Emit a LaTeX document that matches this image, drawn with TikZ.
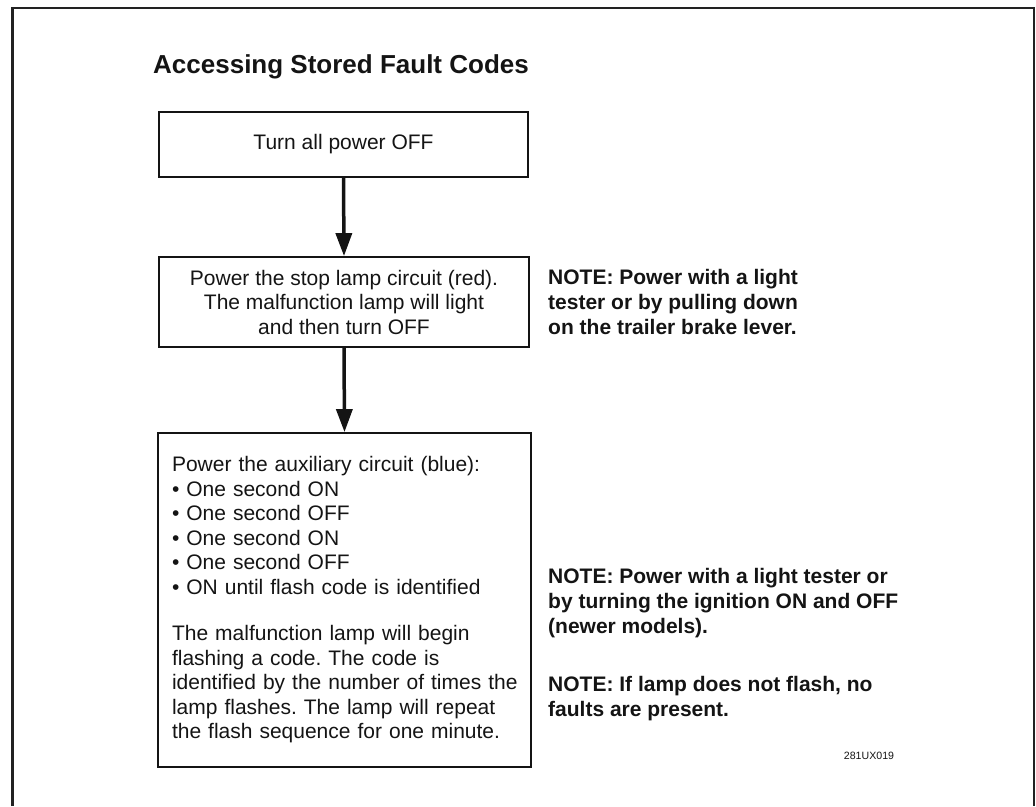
\documentclass[tikz,border=0pt]{standalone}
\usepackage{fontspec}
\setmainfont{Liberation Sans}
\usetikzlibrary{arrows.meta}
\definecolor{ink}{HTML}{141414}
\definecolor{framec}{HTML}{222222}
\frenchspacing
\begin{document}
\begin{tikzpicture}[x=1pt,y=-1pt,
  stepbox/.style={draw=ink, line width=1.8pt, inner sep=0pt, text=ink,
    font=\fontsize{21}{24.5}\selectfont},
  flow/.style={draw=ink, line width=3.5pt, -{Triangle[length=23pt,width=16pt]}},
  notetext/.style={anchor=west, align=left, inner sep=0pt, text=ink,
    font=\bfseries\fontsize{21}{25}\selectfont},
  frameline/.style={draw=framec, line width=2.6pt},
]
\useasboundingbox (0,0) rectangle (1036,806);
% outer frame (open at the bottom)
\coordinate (fbl) at (12.5,806);
\coordinate (ftl) at (12.5,8);
\coordinate (ftr) at (1034,8);
\coordinate (fbr) at (1034,806);
\draw[frameline] (fbl) -- (ftl) -- (ftr) -- (fbr);

% title
\node[anchor=base west, inner sep=0pt, text=ink, font=\bfseries\fontsize{26}{30}\selectfont] (title) at (153,73) {Accessing Stored Fault Codes};

% boxes
\node[stepbox, minimum width=369pt, minimum height=65pt] (b1) at (343.5,144.5) {Turn all power OFF};
\node[stepbox, minimum width=370pt, minimum height=90pt, align=center] (b2) at (344,302)
  {Power the stop lamp circuit (red).\\The malfunction lamp will light\\and then turn OFF};
\node[stepbox, minimum width=373pt, minimum height=334pt, text width=345pt, align=left] (b3) at (344.5,600)
  {Power the auxiliary circuit (blue):\\
   • One second ON\\
   • One second OFF\\
   • One second ON\\
   • One second OFF\\
   • ON until flash code is identified\\[22pt]
   The malfunction lamp will begin\\
   flashing a code. The code is\\
   \mbox{identified by the number of times the}\\
   lamp flashes. The lamp will repeat\\
   the flash sequence for one minute.};

% connectors
\draw[flow] (b1.south) -- (b2.north);
\draw[flow] (b2.south) -- (b3.north);

% notes
\node[notetext] (n1) at (548,302)
  {NOTE: Power with a light\\tester or by pulling down\\on the trailer brake lever.};
\node[notetext] (n2) at (548,603)
  {NOTE: Power with a light tester or\\by turning the ignition ON and OFF\\(newer models).};
\node[notetext] (n3) at (548,698.5)
  {NOTE: If lamp does not flash, no\\faults are present.};

% figure id
\node[inner sep=0pt, text=ink, font=\fontsize{10.6}{12}\selectfont] (fid) at (869,756) {281UX019};
\end{tikzpicture}
\end{document}
